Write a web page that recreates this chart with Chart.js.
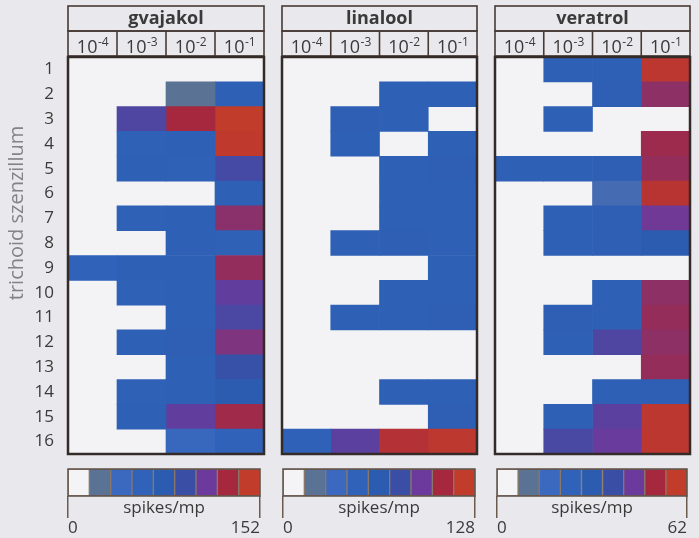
<!DOCTYPE html>
<html>
<head>
<meta charset="utf-8">
<script src="https://cdn.jsdelivr.net/npm/chart.js@4.4.1/dist/chart.umd.min.js"></script>
<style>
html, body { margin: 0; padding: 0; background: #e9e8ec; }
#wrap { position: relative; width: 699px; height: 538px; overflow: hidden; }
canvas { position: absolute; left: 0; top: 0; }
</style>
</head>
<body>
<div id="wrap">
<canvas id="h0" width="699" height="538"></canvas>
<canvas id="h1" width="699" height="538"></canvas>
<canvas id="h2" width="699" height="538"></canvas>
<canvas id="c0" width="699" height="538"></canvas>
<canvas id="c1" width="699" height="538"></canvas>
<canvas id="c2" width="699" height="538"></canvas>
</div>
<script>
// rows = trichoid sensilla, columns = odour concentration (10^x)
const sensilla = ['1','2','3','4','5','6','7','8','9','10','11','12','13','14','15','16'];
const exponents = ['-4','-3','-2','-1'];
const odours = ['gvajakol', 'linalool', 'veratrol'];
const maxRates = [152, 128, 62];   // spikes/mp, top of each colour scale

// spikes/mp, one row per sensillum: [1e-4, 1e-3, 1e-2, 1e-1]
const gvajakol = [
  [0, 0, 0, 0],
  [0, 0, 19, 61],
  [0, 103, 133, 152],
  [0, 60, 62, 150],
  [0, 61, 59, 99],
  [0, 0, 0, 62],
  [0, 59, 61, 124],
  [0, 0, 62, 60],
  [58, 61, 63, 127],
  [0, 60, 62, 110],
  [0, 0, 63, 101],
  [0, 61, 66, 120],
  [0, 0, 62, 91],
  [0, 60, 61, 76],
  [0, 62, 110, 131],
  [0, 0, 42, 57]
];
const linalool = [
  [0, 0, 0, 0],
  [0, 0, 52, 54],
  [0, 55, 53, 0],
  [0, 54, 0, 52],
  [0, 0, 53, 55],
  [0, 0, 52, 54],
  [0, 0, 54, 53],
  [0, 53, 55, 52],
  [0, 0, 0, 54],
  [0, 0, 53, 52],
  [0, 54, 52, 55],
  [0, 0, 0, 0],
  [0, 0, 0, 0],
  [0, 0, 53, 54],
  [0, 0, 0, 55],
  [51, 91, 120, 125]
];
const veratrol = [
  [0, 26, 25, 60],
  [0, 0, 27, 51],
  [0, 26, 0, 0],
  [0, 0, 0, 53],
  [25, 26, 27, 52],
  [0, 0, 13, 59],
  [0, 26, 27, 47],
  [0, 26, 27, 31],
  [0, 0, 0, 0],
  [0, 0, 26, 51],
  [0, 27, 26, 52],
  [0, 26, 42, 51],
  [0, 0, 0, 52],
  [0, 0, 26, 27],
  [0, 26, 44, 60],
  [0, 41, 46, 60]
];
const tables = [gvajakol, linalool, veratrol];

// colour scale steps (legend boxes)
const binColors = ['#f4f4f6', '#5a7394', '#3b69c0', '#2f62b8', '#2c5cb0', '#3a4ea6', '#6c3a9c', '#a5283f', '#c23c2b'];

const FONT = '"Open Sans", "DejaVu Sans", sans-serif';
const TEXT = '#3a3a3a';

function hexRgb(h) {
  return [parseInt(h.slice(1, 3), 16), parseInt(h.slice(3, 5), 16), parseInt(h.slice(5, 7), 16)];
}
function colorFor(v, max) {
  if (v <= 0) return 'rgba(0,0,0,0)';
  let t = Math.min(v / max * 8, 8);
  let i = Math.min(Math.floor(t), 7), f = t - i;
  let a = hexRgb(binColors[i]), b = hexRgb(binColors[i + 1]);
  let c = a.map((x, k) => Math.round(x + (b[k] - x) * f));
  return 'rgb(' + c.join(',') + ')';
}

// panel placement
const panelX = [[68, 264], [282, 477], [495, 690]];
const barX = [[68, 260], [283, 475], [497, 687]];
const plotTop = 57, plotBottom = 454;

const framePlugin = {
  id: 'frame',
  beforeDatasetsDraw(chart) {
    const a = chart.chartArea, ctx = chart.ctx;
    ctx.save();
    ctx.fillStyle = '#f3f3f5';
    ctx.fillRect(a.left, a.top, a.width, a.height);
    ctx.restore();
  },
  afterDraw(chart, args, opts) {
    const ctx = chart.ctx, a = chart.chartArea, x = chart.scales.x;
    ctx.save();
    ctx.strokeStyle = '#473a35';
    ctx.lineWidth = 1.6;
    ctx.strokeRect(a.left, 6, a.width, 25);
    ctx.strokeRect(a.left, 31, a.width, 25);
    for (let j = 1; j < exponents.length; j++) {
      const px = x.getPixelForValue(j);
      ctx.beginPath(); ctx.moveTo(px, 31); ctx.lineTo(px, 56); ctx.stroke();
    }
    ctx.fillStyle = TEXT;
    ctx.textAlign = 'center';
    ctx.textBaseline = 'alphabetic';
    ctx.font = 'bold 18px ' + FONT;
    ctx.fillText(opts.title, (a.left + a.right) / 2, 24);
    exponents.forEach((e, j) => {
      const cx = x.getPixelForValue(j + 0.5);
      ctx.font = '18px ' + FONT;
      const w1 = ctx.measureText('10').width;
      ctx.font = '12px ' + FONT;
      const w2 = ctx.measureText(e).width;
      const x0 = cx - (w1 + w2) / 2;
      ctx.textAlign = 'left';
      ctx.font = '18px ' + FONT;
      ctx.fillText('10', x0, 53);
      ctx.font = '12px ' + FONT;
      ctx.fillText(e, x0 + w1 + 0.5, 46);
    });
    ctx.strokeStyle = '#342b28';
    ctx.lineWidth = 2.5;
    ctx.strokeRect(a.left, a.top, a.width, a.height);
    if (opts.yTitle) {
      ctx.translate(17, 213);
      ctx.rotate(-Math.PI / 2);
      ctx.textAlign = 'center';
      ctx.textBaseline = 'middle';
      ctx.fillStyle = '#848488';
      ctx.font = '20px ' + FONT;
      ctx.fillText(opts.yTitle, 0, 0);
    }
    ctx.restore();
  }
};

const boxPlugin = {
  id: 'box',
  afterDatasetsDraw(chart) {
    const a = chart.chartArea, ctx = chart.ctx;
    ctx.save();
    ctx.strokeStyle = '#5e4d44';
    ctx.lineWidth = 1.5;
    ctx.strokeRect(a.left, a.top, a.width, a.height);
    ctx.restore();
  }
};

odours.forEach((name, k) => {
  const table = tables[k], M = maxRates[k];
  const [l, r] = panelX[k];
  const first = k === 0;
  const yScale = {
    stacked: true,
    display: first,
    grid: { display: false, drawTicks: false },
    border: { display: false },
    ticks: { autoSkip: false, padding: 14, color: TEXT, font: { family: FONT, size: 17 } }
  };
  if (first) yScale.afterFit = s => { s.width = l; };
  new Chart(document.getElementById('h' + k), {
    type: 'bar',
    data: {
      labels: sensilla,
      datasets: exponents.map((e, j) => ({
        label: '10^' + e,
        data: sensilla.map(() => 1),
        backgroundColor: table.map(row => colorFor(row[j], M)),
        borderWidth: 0,
        barPercentage: 1,
        categoryPercentage: 1
      }))
    },
    options: {
      indexAxis: 'y',
      responsive: false,
      animation: false,
      layout: { padding: { left: first ? 0 : l, right: 699 - r, top: plotTop, bottom: 538 - plotBottom } },
      scales: {
        x: { stacked: true, min: 0, max: exponents.length, display: false },
        y: yScale
      },
      plugins: {
        legend: { display: false },
        tooltip: { enabled: false },
        frame: { title: name, yTitle: first ? 'trichoid szenzillum' : null }
      }
    },
    plugins: [framePlugin]
  });

  const [bl, br] = barX[k];
  new Chart(document.getElementById('c' + k), {
    type: 'bar',
    data: {
      labels: binColors.map((c, i) => String(i)),
      datasets: [{
        data: binColors.map(() => 1),
        backgroundColor: binColors,
        borderColor: '#8a7868',
        borderWidth: 1,
        borderSkipped: false,
        barPercentage: 1,
        categoryPercentage: 1
      }]
    },
    options: {
      responsive: false,
      animation: false,
      layout: { padding: { left: bl, right: 699 - br, top: 469, bottom: 0 } },
      scales: {
        x: { display: false },
        y: { display: false, min: 0, max: 1 },
        x2: {
          type: 'linear', axis: 'x', position: 'bottom', min: 0, max: M, offset: false,
          afterBuildTicks: s => { s.ticks = [{ value: 0 }, { value: M }]; },
          afterFit: s => { s.height = 538 - 496; },
          grid: { offset: false, drawOnChartArea: false, tickLength: 22, color: '#6b5a4e', lineWidth: 1.5 },
          border: { display: false },
          ticks: { align: 'inner', padding: 0, maxRotation: 0, color: TEXT, font: { family: FONT, size: 17 } },
          title: { display: true, text: 'spikes/mp', color: TEXT, font: { family: FONT, size: 17 }, padding: { top: 0, bottom: 20 } }
        }
      },
      plugins: { legend: { display: false }, tooltip: { enabled: false } }
    },
    plugins: [boxPlugin]
  });
});
</script>
</body>
</html>
